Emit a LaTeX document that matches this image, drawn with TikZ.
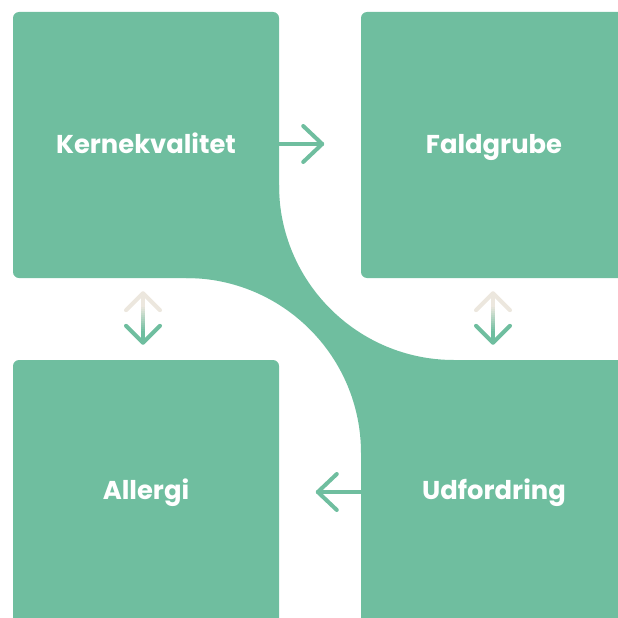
\documentclass[tikz,border=0pt]{standalone}
\usepackage{fontspec}
\setmainfont{Poppins}
\usetikzlibrary{calc}
\definecolor{boxgreen}{RGB}{111,190,159}
\definecolor{lightbeige}{RGB}{236,231,222}
\tikzset{
  card/.style={fill=boxgreen, draw=none, rounded corners=6pt, minimum width=266pt, minimum height=266pt, inner sep=0pt, text=white, font=\bfseries\fontsize{25.8}{30}\selectfont, text height=17pt, text depth=0pt},
  lowcard/.style={card, text height=13pt},
  ln/.style={line width=4pt, line cap=round, line join=round}
}
\newcommand\gradarr[2]{%
  \foreach \i in {0,...,24}{%
    \pgfmathsetmacro\ta{\i/25}%
    \pgfmathsetmacro\tb{min(1,(\i+1.4)/25)}%
    \pgfmathsetmacro\p{max(0,min(100,(\i/25-0.25)*200))}%
    \draw[line width=4pt, line cap=butt, boxgreen!\p!lightbeige] ($(#1)!\ta!(#2)$) -- ($(#1)!\tb!(#2)$);
  }
  \draw[ln, lightbeige] ($(#1)+(-17,17)$) -- (#1) -- ($(#1)+(17,17)$);
  \draw[ln, boxgreen] ($(#2)+(-17,-17)$) -- (#2) -- ($(#2)+(17,-17)$);
}
\begin{document}
\begin{tikzpicture}[x=1pt,y=-1pt]
\useasboundingbox (0,0) rectangle (618,618);
\clip (0,0) rectangle (618,618);
\node[card] (K) at (146,145) {Kernekvalitet};
\node[card] (F) at (494,145) {Faldgrube};
\node[lowcard] (A) at (146,493) {Allergi};
\node[lowcard] (U) at (494,493) {Udfordring};
% connecting band
\fill[boxgreen] (279,185) arc[start angle=180, end angle=90, radius=175]
  -- (361,360) -- (361,453) arc[start angle=0, end angle=-90, radius=175]
  -- (279,278) -- cycle;
\fill[boxgreen] (255,255) rectangle (280,279);
\fill[boxgreen] (360,359) rectangle (385,384);
% horizontal arrows
\coordinate (r0) at ($(K.east)+(0,-1)$);
\coordinate (r1) at ($(K.east)+(43,-1)$);
\draw[ln, boxgreen] (r0) -- (r1);
\draw[ln, boxgreen] ($(r1)+(-19,-18)$) -- (r1) -- ($(r1)+(-19,18)$);
\coordinate (l0) at ($(U.west)+(0,-1)$);
\coordinate (l1) at ($(U.west)+(-43,-1)$);
\draw[ln, boxgreen] (l0) -- (l1);
\draw[ln, boxgreen] ($(l1)+(19,-18)$) -- (l1) -- ($(l1)+(19,18)$);
% vertical gradient arrows
\coordinate (v1t) at ($(K.south)+(-3,15)$);
\coordinate (v1b) at ($(A.north)+(-3,-17)$);
\coordinate (v2t) at ($(F.south)+(-1,15)$);
\coordinate (v2b) at ($(U.north)+(-1,-17)$);
\gradarr{v1t}{v1b}
\gradarr{v2t}{v2b}
\end{tikzpicture}
\end{document}
